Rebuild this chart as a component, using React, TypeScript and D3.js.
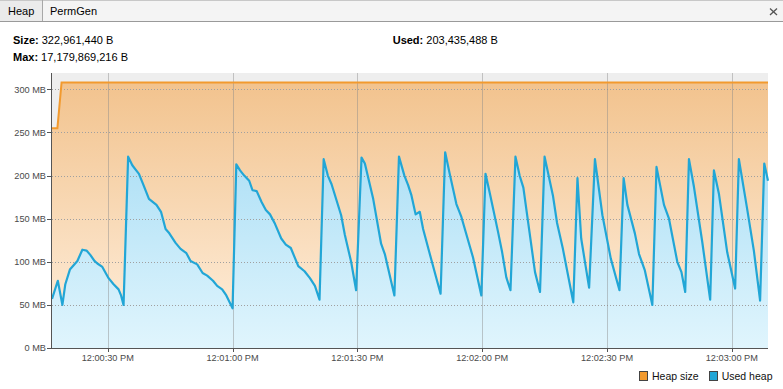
import React from "react";
import * as d3 from "d3";

// seconds after 12:00:00 and used heap in MB
const TIMES = [
  16.6, 18.0, 19.1, 19.8, 20.9, 22.7, 23.9, 24.9, 25.8, 26.8, 27.5, 28.7, 30.2,
  31.4, 32.6, 33.2, 33.8, 34.9, 35.9, 36.7, 37.5, 38.5, 39.9, 41.7, 42.8, 43.9,
  44.8, 46.3, 47.5, 48.9, 49.9, 51.5, 52.8, 53.9, 55.3, 56.3, 57.5, 58.5, 59.5,
  60.0, 60.9, 61.8, 62.8, 64.0, 64.8, 65.8, 67.0, 68.0, 69.0, 70.2, 71.7, 72.8,
  74.0, 75.8, 77.3, 78.6, 79.8, 80.9, 81.9, 82.9, 83.8, 86.1, 87.0, 88.5, 89.7,
  91.0, 91.8, 93.8, 95.7, 96.6, 98.9, 100.0, 101.3, 102.2, 103.0, 104.0, 105.0,
  105.8, 107.8, 110.0, 111.1, 112.2, 113.8, 115.0, 117.8, 119.8, 120.8, 121.9,
  123.8, 124.8, 125.8, 126.8, 128.0, 129.0, 129.9, 131.1, 132.7, 133.9, 135.0,
  137.0, 138.0, 139.4, 141.9, 142.9, 143.8, 145.7, 147.1, 148.9, 150.9, 153.0,
  154.0, 154.9, 156.7, 157.7, 159.1, 160.9, 161.9, 163.7, 164.9, 166.9, 167.9,
  168.8, 169.7, 170.9, 172.9, 174.8, 175.7, 176.9, 178.9, 180.8, 181.7, 183.6,
  185.3, 186.8, 187.8, 188.7,
];
const USED_MB = [
  57, 78, 50, 74, 91, 101, 114, 113, 108, 101, 98, 94, 81, 74, 68, 61, 50, 222,
  212, 207, 202, 190, 173, 166, 158, 138, 133, 122, 115, 110, 101, 97, 87, 84,
  78, 72, 68, 61, 51, 46, 213, 206, 200, 194, 183, 182, 169, 160, 155, 144, 127,
  120, 116, 95, 89, 81, 72, 56, 219, 200, 190, 154, 131, 100, 67, 221, 214, 173,
  121, 109, 61, 222, 200, 189, 177, 155, 158, 138, 102, 63, 227, 202, 167, 152,
  105, 61, 202, 178, 135, 111, 82, 67, 222, 200, 186, 144, 88, 65, 222, 177,
  145, 115, 53, 197, 127, 70, 219, 154, 104, 67, 197, 166, 133, 109, 90, 50,
  210, 166, 150, 100, 88, 65, 219, 187, 123, 56, 206, 179, 111, 69, 219, 164,
  113, 55, 214, 194,
];
const SIZE_TIMES = [16.6, 17.9, 18.9, 188.7];
const SIZE_MB = [255, 255, 308, 308];
const Y_TICKS = [0, 50, 100, 150, 200, 250, 300];

const W = 783;
const H = 389;
const M = { left: 52, right: 768, top: 73, bottom: 348 };

const base = new Date(2015, 0, 1, 12, 0, 0);
const toDate = (s: number) => new Date(base.getTime() + s * 1000);

export default function App() {
  const x = d3
    .scaleTime()
    .domain([toDate(TIMES[0]), toDate(TIMES[TIMES.length - 1])])
    .range([M.left, M.right]);
  const y = d3.scaleLinear().domain([0, 319]).range([M.bottom, M.top]);
  const xTicks = x.ticks(d3.timeSecond.every(30)!);
  const fmt = d3.timeFormat("%-I:%M:%S %p");

  const used = TIMES.map((t, i) => ({ d: toDate(t), v: USED_MB[i] }));
  const size = SIZE_TIMES.map((t, i) => ({ d: toDate(t), v: SIZE_MB[i] }));

  const area = d3
    .area<{ d: Date; v: number }>()
    .x((p) => x(p.d))
    .y0(y(0))
    .y1((p) => y(p.v));
  const line = d3
    .line<{ d: Date; v: number }>()
    .x((p) => x(p.d))
    .y((p) => y(p.v));

  const font = "'Liberation Sans', Arial, sans-serif";

  return (
    <div style={{ position: "fixed", left: 0, top: 0 }}>
      <svg width={W} height={H} style={{ display: "block", background: "#fff" }} fontFamily={font}>
        <defs>
          <linearGradient id="gSize" gradientUnits="userSpaceOnUse" x1={0} y1={y(308)} x2={0} y2={M.bottom}>
            <stop offset="0" stopColor="#f2c38e" />
            <stop offset="1" stopColor="#fff0df" />
          </linearGradient>
          <linearGradient id="gUsed" gradientUnits="userSpaceOnUse" x1={0} y1={y(308)} x2={0} y2={M.bottom}>
            <stop offset="0" stopColor="#9cd8f3" />
            <stop offset="1" stopColor="#e0f5fd" />
          </linearGradient>
        </defs>

        {/* tab bar */}
        <rect x={0} y={0} width={W} height={21} fill="#f4f4f4" />
        <rect x={0} y={1} width={42} height={20} fill="#ebebeb" />
        <line x1={0} x2={W} y1={0.5} y2={0.5} stroke="#c8c8c8" />
        <line x1={0} x2={W} y1={21.5} y2={21.5} stroke="#9a9a9a" />
        <line x1={42.5} x2={42.5} y1={0} y2={21} stroke="#a8a8a8" />
        <text x={8} y={15} fontSize={11} fill="#000">Heap</text>
        <text x={50} y={15} fontSize={11} fill="#000">PermGen</text>
        <g stroke="#555" strokeWidth={1.3}>
          <line x1={770} y1={8.5} x2={777} y2={15} />
          <line x1={777} y1={8.5} x2={770} y2={15} />
        </g>

        {/* header */}
        <text x={13} y={44.3} fontSize={11} fill="#000">
          <tspan fontWeight="bold">Size:</tspan> 322,961,440 B
        </text>
        <text x={13} y={61} fontSize={11} fill="#000">
          <tspan fontWeight="bold">Max:</tspan> 17,179,869,216 B
        </text>
        <text x={392.7} y={44.3} fontSize={11} fill="#000">
          <tspan fontWeight="bold">Used:</tspan> 203,435,488 B
        </text>

        {/* plot */}
        <rect x={M.left} y={M.top} width={M.right - M.left} height={M.bottom - M.top} fill="#eeeeee" />
        <path d={area(size)!} fill="url(#gSize)" />
        <path d={area(used)!} fill="url(#gUsed)" />

        {Y_TICKS.filter((v) => v > 0).map((v) => (
          <line key={v} x1={M.left} x2={M.right} y1={Math.round(y(v)) + 0.5} y2={Math.round(y(v)) + 0.5}
            stroke="#a0a0a0" strokeDasharray="1 2" />
        ))}
        {xTicks.map((t) => (
          <line key={+t} x1={Math.round(x(t)) + 0.5} x2={Math.round(x(t)) + 0.5} y1={M.top} y2={M.bottom}
            stroke="#8a8a8a" strokeOpacity={0.45} />
        ))}

        <path d={line(size)!} fill="none" stroke="#f29a2e" strokeWidth={2} />
        <path d={line(used)!} fill="none" stroke="#22a6d6" strokeWidth={2.2} strokeLinejoin="round" />

        {/* axes */}
        <line x1={M.left - 0.5} x2={M.left - 0.5} y1={M.top} y2={M.bottom} stroke="#555" />
        <line x1={M.left - 1} x2={M.right} y1={M.bottom + 0.5} y2={M.bottom + 0.5} stroke="#555" />
        {Y_TICKS.map((v) => (
          <g key={v}>
            <line x1={M.left - 5} x2={M.left} y1={Math.round(y(v)) + 0.5} y2={Math.round(y(v)) + 0.5} stroke="#555" />
            <text x={M.left - 6} y={y(v)} dy="0.35em" textAnchor="end" fontSize={9.2} fill="#4a4a4a">
              {v} MB
            </text>
          </g>
        ))}
        {xTicks.map((t) => (
          <g key={+t}>
            <line x1={Math.round(x(t)) + 0.5} x2={Math.round(x(t)) + 0.5} y1={M.bottom} y2={M.bottom + 4} stroke="#555" />
            <text x={x(t)} y={360.5} textAnchor="middle" fontSize={9.2} fill="#4a4a4a">
              {fmt(t)}
            </text>
          </g>
        ))}

        {/* legend */}
        <rect x={639.5} y={371.5} width={8} height={9} fill="#f29a2e" stroke="#444" />
        <text x={652} y={380.3} fontSize={10.5} fill="#111">Heap size</text>
        <rect x={709.5} y={371.5} width={8} height={9} fill="#22a6d6" stroke="#444" />
        <text x={721.7} y={380.3} fontSize={10.5} fill="#111">Used heap</text>
      </svg>
    </div>
  );
}
